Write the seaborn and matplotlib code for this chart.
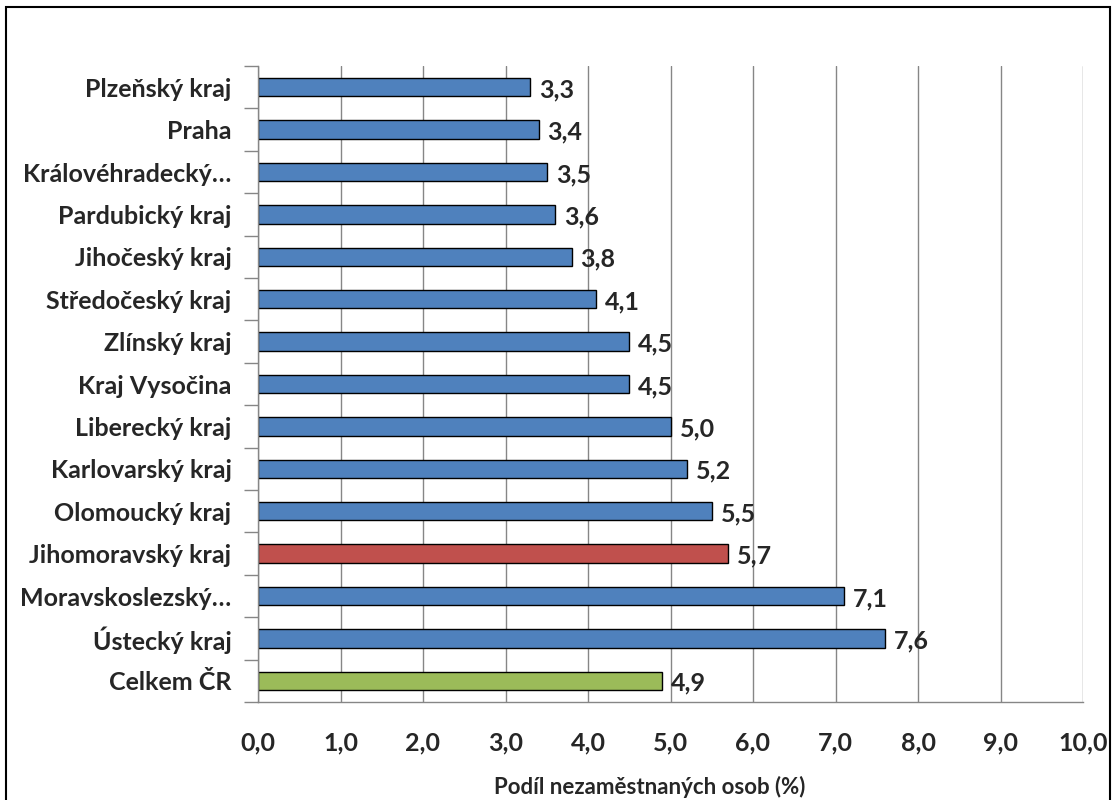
import matplotlib
matplotlib.use("Agg")
import matplotlib.pyplot as plt
import seaborn as sns
import pandas as pd
from matplotlib.patches import Rectangle

# data
regions = ["Plzeňský kraj", "Praha", "Královéhradecký…", "Pardubický kraj",
           "Jihočeský kraj", "Středočeský kraj", "Zlínský kraj", "Kraj Vysočina",
           "Liberecký kraj", "Karlovarský kraj", "Olomoucký kraj",
           "Jihomoravský kraj", "Moravskoslezský…", "Ústecký kraj", "Celkem ČR"]
values = [3.3, 3.4, 3.5, 3.6, 3.8, 4.1, 4.5, 4.5, 5.0, 5.2, 5.5, 5.7, 7.1, 7.6, 4.9]
x_ticks = [0, 1, 2, 3, 4, 5, 6, 7, 8, 9, 10]
xlabel = "Podíl nezaměstnaných osob (%)"

blue, red, green = "#4F81BD", "#C0504D", "#9BBB59"
colors = [blue] * len(regions)
colors[regions.index("Jihomoravský kraj")] = red
colors[regions.index("Celkem ČR")] = green

df = pd.DataFrame({"region": regions, "value": values})

sns.set_theme(style="white")
plt.rcParams['font.family'] = ['Lato', 'DejaVu Sans']
plt.rcParams['font.weight'] = 'bold'

fig = plt.figure(figsize=(11.16, 8), dpi=100)
ax = fig.add_axes([258 / 1116, 1 - 702 / 800, (1083 - 258) / 1116, (702 - 66) / 800])

sns.barplot(data=df, x="value", y="region", hue="region", palette=colors,
            saturation=1, legend=False, orient="h", width=0.43,
            edgecolor="black", linewidth=1.0, ax=ax)

ax.set_xlim(0, 10)
ax.set_ylim(len(regions) - 0.5, -0.5)
ax.set_xticks(x_ticks)
ax.set_xticklabels([f"{t:.1f}".replace(".", ",") for t in x_ticks],
                   fontsize=18, fontweight="bold")
ax.tick_params(axis="x", length=10, width=1, color="#868686", pad=11)
ax.set_yticks(range(len(regions)))
ax.set_yticklabels(regions, fontsize=18, fontweight="bold")
ax.tick_params(axis="y", which="major", length=0, pad=19)
ax.set_yticks([i - 0.5 for i in range(len(regions) + 1)], minor=True)
ax.tick_params(axis="y", which="minor", length=10, width=1, color="#868686", left=True)

ax.xaxis.grid(True, color="#868686", linewidth=1)
ax.yaxis.grid(False)
ax.set_axisbelow(True)
for side in ["top", "right"]:
    ax.spines[side].set_visible(False)
for side in ["left", "bottom"]:
    ax.spines[side].set_color("#868686")
    ax.spines[side].set_linewidth(1)

ax.set_ylabel("")
ax.set_xlabel(xlabel, fontsize=16, fontweight="bold")
ax.xaxis.set_label_coords(0.475, -0.117)

for i, v in enumerate(values):
    ax.text(v + 0.11, i + 0.06, f"{v:.1f}".replace(".", ","), va="center",
            ha="left", fontsize=18, fontweight="bold")

# outer chart border
fig.patches.append(Rectangle((6 / 1116, -0.02), 1104 / 1116, 1 - 7 / 800 + 0.02,
                             transform=fig.transFigure, fill=False,
                             edgecolor="black", linewidth=1.5))

fig.savefig("out.png", dpi=100)
